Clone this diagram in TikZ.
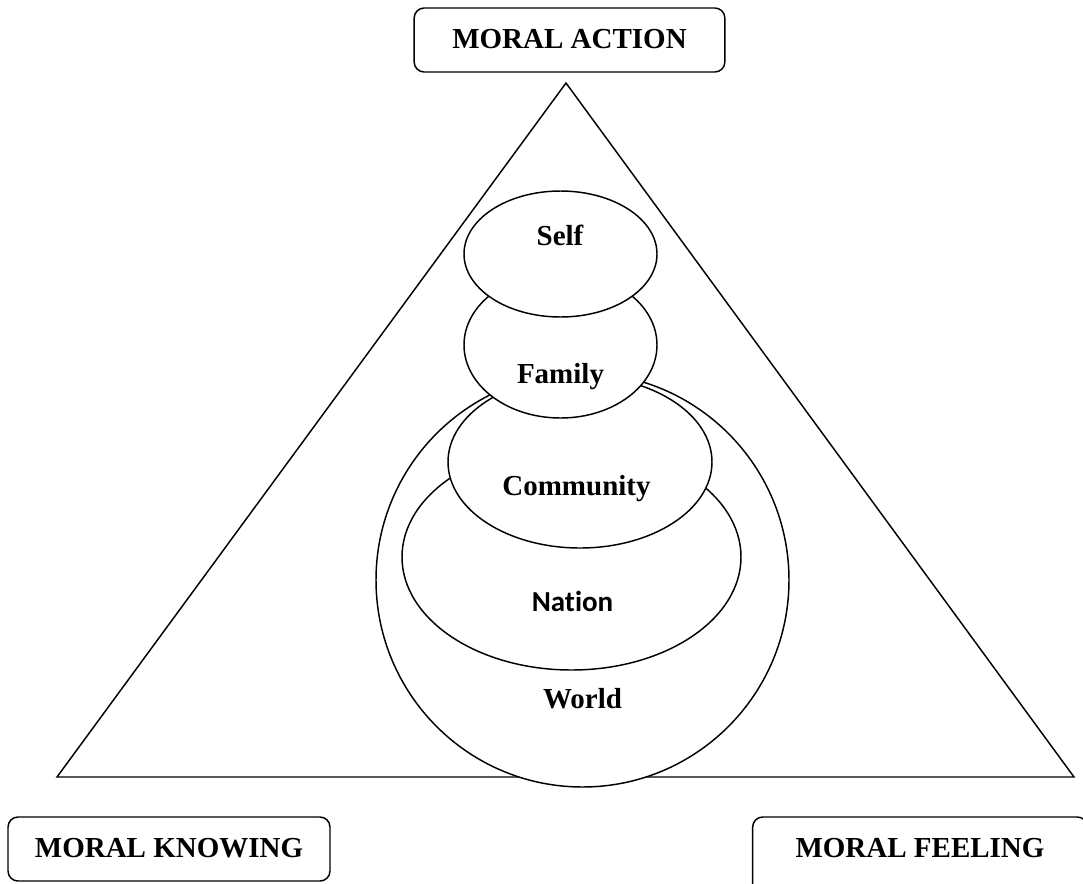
\documentclass[tikz,border=0pt]{standalone}
\usepackage{fontspec}
\setmainfont{Liberation Serif}
\newfontfamily\calibrifont[Ligatures=NoCommon]{Carlito}
\usetikzlibrary{positioning}

\tikzset{every picture/.style={line width=1.1pt}}
\tikzset{
  moralbox/.style={draw, rounded corners=7.5pt, text height=15pt, text depth=3pt, inner ysep=15pt, anchor=base},
  sphere/.style={draw, fill=white},
  spheretext/.style={anchor=base, inner sep=0.75pt}
}

\begin{document}
\begin{tikzpicture}[x=0.75pt,y=0.75pt,yscale=-1,xscale=1,font=\fontsize{21.75}{26}\selectfont\bfseries]
\useasboundingbox (0,0) rectangle (1083,883);
\clip (0,0) rectangle (1083,883);

% Triangle
\coordinate (apex) at (566,83);
\coordinate (knowing corner) at (57,777);
\coordinate (feeling corner) at (1074,777);
\draw (apex) -- (knowing corner) -- (feeling corner) -- cycle;

% Shape: nested ellipses, outermost first
\draw [sphere] (582.5,580) ellipse (206.5 and 207);
\draw [sphere] (571.5,557) ellipse (169.5 and 113);
\draw [sphere] (580,462) ellipse (132 and 86);
\draw [sphere] (560.5,345) ellipse (96.5 and 73);
\draw [sphere] (560.5,254) ellipse (96.5 and 63);

% Text Node
\node [spheretext] (self) at (560,245) {Self};
% Text Node
\node [spheretext] (family) at (560.5,383) {Family};
% Text Node
\node [spheretext] (community) at (576.5,495) {Community};
% Text Node
\node [spheretext, font=\fontsize{21.75}{26}\selectfont\calibrifont\bfseries] (nation) at (572.5,611) {Nation};
% Text Node
\node [spheretext] (world) at (582.5,708) {World};

% Corner boxes
\node [moralbox, minimum width=233pt] (action) at (569.5,48) {MORAL ACTION};
\node [moralbox, minimum width=241.5pt] (knowing) at (169,857) {MORAL KNOWING};
\node [moralbox, minimum width=251pt, text depth=14pt] (feeling) at (920,857) {MORAL FEELING};

\end{tikzpicture}
\end{document}
